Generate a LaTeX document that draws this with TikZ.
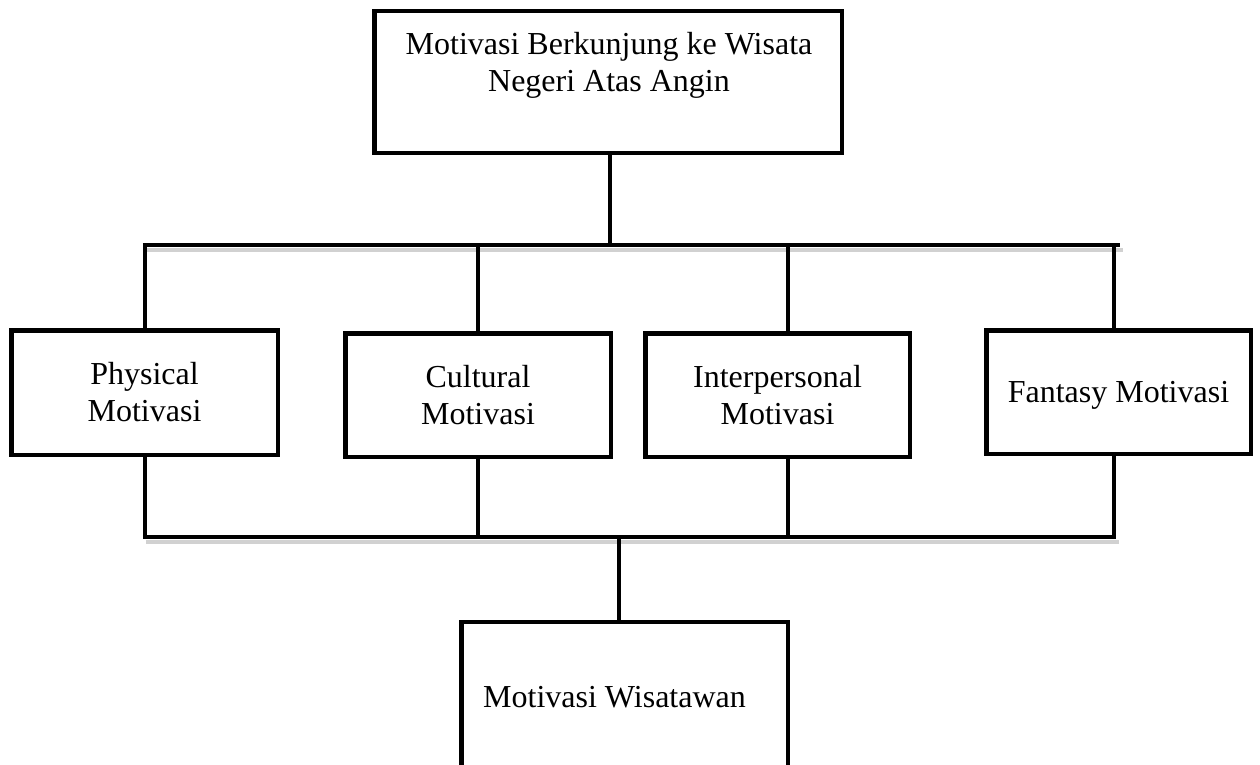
\documentclass[tikz,border=0pt]{standalone}
\usepackage{fontspec}
\setmainfont{Liberation Serif}
\begin{document}
\begin{tikzpicture}[x=1pt,y=-1pt,
  txt/.style={font=\fontsize{32}{37}\selectfont},
  box/.style={draw=black, line width=4.5pt, rectangle, inner sep=0pt, align=center, txt},
  conn/.style={line width=4.5pt, black},
  shade/.style={line width=4.5pt, black!18}]
\useasboundingbox (0,0) rectangle (1260,765);
\begin{scope}
\clip (0,0) rectangle (1260,765);
% bus coordinates
\coordinate (ub) at (610,245);
\coordinate (uL) at (142.75,245);
\coordinate (uR) at (1120,245);
\coordinate (u1) at (145,245);
\coordinate (u2) at (478,245);
\coordinate (u3) at (788,245);
\coordinate (u4) at (1114,245);
\coordinate (lb) at (619,537);
\coordinate (lL) at (142.75,537);
\coordinate (lR) at (1116.25,537);
\coordinate (l1) at (145,537);
\coordinate (l2) at (478,537);
\coordinate (l3) at (788,537);
\coordinate (l4) at (1114,537);
% shadows of the buses
\draw[shade] ([shift={(3,5)}]uL) -- ([shift={(3,5)}]uR);
\draw[shade] ([shift={(3,5)}]lL) -- ([shift={(3,5)}]lR);
% boxes
\node[box, minimum width=467.5pt, minimum height=141.5pt] (top) at (608,82) {};
\node[txt, anchor=north, inner sep=0pt, align=center] (toptext) at (609,32) {Motivasi Berkunjung ke Wisata\\Negeri Atas Angin};
\node[box, minimum width=266.5pt, minimum height=124.5pt] (phys) at (144.5,392.5) {Physical\\Motivasi};
\node[box, minimum width=265.5pt, minimum height=123.5pt] (cult) at (478,395) {Cultural\\Motivasi};
\node[box, minimum width=264.5pt, minimum height=123.5pt] (inter) at (777.5,395) {Interpersonal\\Motivasi};
\node[box, minimum width=264.5pt, minimum height=123.5pt, text depth=0pt] (fant) at (1118.5,392) {Fantasy Motivasi};
\node[box, minimum width=326.5pt, minimum height=177.75pt] (wis) at (624.5,711) {};
\node[txt, anchor=base west, inner sep=0pt] (wistext) at (483,707) {Motivasi Wisatawan};
% connectors
\draw[conn] (ub |- top.south) -- (ub);
\draw[conn] (uL) -- (uR);
\draw[conn] (u1) -- (u1 |- phys.north);
\draw[conn] (u2) -- (u2 |- cult.north);
\draw[conn] (u3) -- (u3 |- inter.north);
\draw[conn] (u4) -- (u4 |- fant.north);
\draw[conn] (l1 |- phys.south) -- (l1);
\draw[conn] (l2 |- cult.south) -- (l2);
\draw[conn] (l3 |- inter.south) -- (l3);
\draw[conn] (l4 |- fant.south) -- (l4);
\draw[conn] (lL) -- (lR);
\draw[conn] (lb) -- (lb |- wis.north);
\end{scope}
\end{tikzpicture}
\end{document}
